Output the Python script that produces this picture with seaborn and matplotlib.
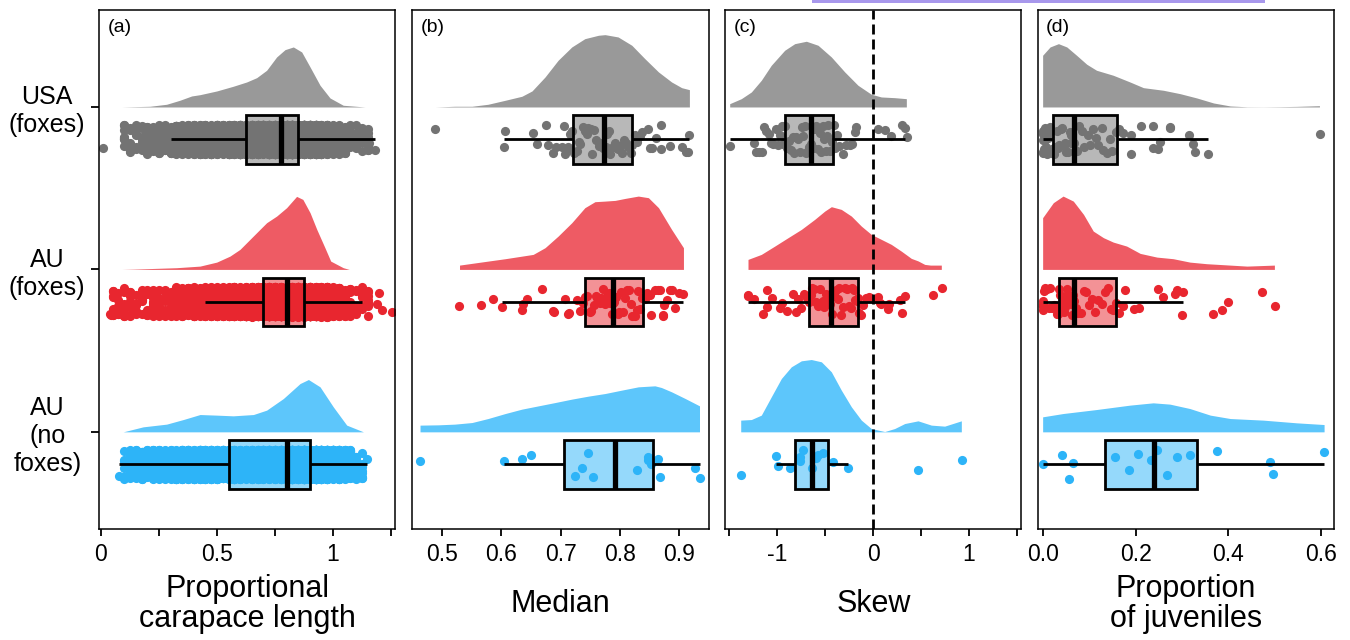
import numpy as np
import matplotlib
matplotlib.use("Agg")
import matplotlib.pyplot as plt
from matplotlib.patches import Rectangle
from matplotlib.colors import to_rgba
import seaborn as sns

sns.set_style("white")
plt.rcParams["font.family"] = ["Liberation Sans", "DejaVu Sans"]
plt.rcParams["axes.edgecolor"] = "black"
plt.rcParams["xtick.color"] = "black"
plt.rcParams["ytick.color"] = "black"
plt.rcParams["text.color"] = "black"
plt.rcParams["axes.labelcolor"] = "black"
plt.rcParams["xtick.labelcolor"] = "black"
plt.rcParams["ytick.labelcolor"] = "black"

# ---------------- data ----------------
groups = ["USA\n(foxes)", "AU\n(foxes)", "AU\n(no\nfoxes)"]
panel_letters = ["(a)", "(b)", "(c)", "(d)"]
x_titles = ["Proportional\ncarapace length", "Median", "Skew", "Proportion\nof juveniles"]

# panel (a): individuals, as counts per carapace-length bin
a_bins = [0.050, 0.075, 0.100, 0.125, 0.150, 0.175, 0.200, 0.225, 0.250, 0.275,
          0.300, 0.325, 0.350, 0.375, 0.400, 0.425, 0.450, 0.475, 0.500, 0.525,
          0.550, 0.575, 0.600, 0.625, 0.650, 0.675, 0.700, 0.725, 0.750, 0.775,
          0.800, 0.825, 0.850, 0.875, 0.900, 0.925, 0.950, 0.975, 1.000, 1.025,
          1.050, 1.075, 1.100, 1.125, 1.150]
usa_a_counts = [0, 0, 8, 8, 8, 9, 10, 12, 18, 30, 42, 66, 90, 114, 136, 146, 160, 178,
                192, 210, 234, 252, 276, 300, 324, 360, 420, 500, 590, 648, 690, 700,
                680, 650, 540, 400, 285, 180, 108, 48, 24, 12, 8, 8, 8]
au_a_counts = [8, 8, 8, 8, 8, 8, 8, 9, 10, 12, 14, 20, 26, 32, 38, 46, 54, 64, 74,
               108, 144, 186, 234, 288, 342, 396, 456, 516, 600, 690, 760, 820, 850,
               790, 620, 430, 270, 156, 90, 42, 18, 9, 8, 8, 8]
nf_a_counts = [0, 0, 8, 24, 46, 66, 80, 86, 92, 98, 116, 132, 150, 168, 192, 208, 208,
               204, 200, 198, 194, 192, 194, 200, 206, 216, 240, 276, 312, 372, 444,
               504, 564, 612, 624, 624, 564, 468, 348, 228, 120, 48, 18, 8, 0]
usa_a_extra = [0.01, 1.155, 1.18]
au_a_extra = [0.04, 0.045, 1.19, 1.20, 1.21, 1.253]
nf_a_extra = [0.08, 1.145]

# panel (b): median per site
usa_b = [0.489, 0.605, 0.606, 0.654, 0.661, 0.676, 0.679, 0.688, 0.692, 0.702, 0.706,
         0.708, 0.711, 0.713, 0.716,
         0.720, 0.723, 0.727, 0.731, 0.733, 0.738, 0.741, 0.744, 0.747, 0.751, 0.753,
         0.757, 0.760, 0.764, 0.767, 0.771, 0.776, 0.779, 0.782, 0.784, 0.788, 0.792,
         0.795, 0.797, 0.801, 0.804, 0.807, 0.810, 0.813, 0.815, 0.818, 0.821,
         0.825, 0.829, 0.833, 0.838, 0.848, 0.850, 0.854, 0.861, 0.869, 0.870, 0.884,
         0.904, 0.912, 0.915, 0.917]
au_b = [0.529, 0.566, 0.586, 0.601, 0.636, 0.637, 0.643, 0.669, 0.688, 0.689, 0.707,
        0.713, 0.714, 0.727, 0.733, 0.738,
        0.742, 0.745, 0.749, 0.752, 0.756, 0.759, 0.762, 0.766, 0.769, 0.772, 0.775,
        0.778, 0.781, 0.783, 0.786, 0.788, 0.790, 0.793, 0.796, 0.799, 0.802, 0.805,
        0.808, 0.812, 0.815, 0.818, 0.821, 0.825, 0.828, 0.831, 0.834, 0.837,
        0.842, 0.846, 0.851, 0.853, 0.859, 0.864, 0.868, 0.872, 0.873, 0.875, 0.880,
        0.884, 0.887, 0.893, 0.900, 0.907]
nf_b = [0.4635, 0.605, 0.636, 0.650, 0.724, 0.737, 0.747, 0.754, 0.828, 0.847, 0.848,
        0.852, 0.864, 0.867, 0.926, 0.935]

# panel (c): skew per site
usa_c = [-1.496, -1.245, -1.22, -1.19, -1.16, -1.14, -1.114, -1.09, -1.06, -1.04,
         -1.01, -0.99, -0.97, -0.95, -0.935,
         -0.92, -0.90, -0.88, -0.86, -0.84, -0.82, -0.80, -0.78, -0.76, -0.745, -0.73,
         -0.715, -0.70, -0.685, -0.67, -0.655, -0.645, -0.63, -0.615, -0.60, -0.585,
         -0.57, -0.555, -0.54, -0.525, -0.51, -0.495, -0.48, -0.465, -0.45, -0.43, -0.41,
         -0.40, -0.38, -0.35, -0.313, -0.278, -0.243, -0.22, -0.191, -0.174, 0.052,
         0.122, 0.191, 0.30, 0.335, 0.355]
au_c = [-1.31, -1.305, -1.24, -1.15, -1.11, -1.106, -1.05, -0.974, -0.95, -0.90, -0.835,
        -0.80, -0.783, -0.75, -0.72, -0.69,
        -0.665, -0.65, -0.635, -0.62, -0.60, -0.585, -0.57, -0.555, -0.54, -0.525, -0.51,
        -0.495, -0.48, -0.465, -0.45, -0.44, -0.43, -0.41, -0.39, -0.37, -0.35, -0.33,
        -0.31, -0.29, -0.27, -0.25, -0.235, -0.22, -0.20, -0.185, -0.17, -0.16,
        -0.15, -0.13, -0.10, -0.07, -0.04, 0.035, 0.05, 0.07, 0.087, 0.156, 0.17, 0.28,
        0.302, 0.331, 0.63, 0.72]
nf_c = [-1.381, -1.009, -0.992, -0.87, -0.765, -0.765, -0.73, -0.637, -0.60, -0.574,
        -0.52, -0.418, -0.261, 0.470, 0.929]

# panel (d): proportion of juveniles per site
usa_d = [0.000, 0.000, 0.000, 0.000, 0.000, 0.002, 0.004, 0.006, 0.008, 0.010, 0.012,
         0.014, 0.016, 0.018, 0.020,
         0.021, 0.024, 0.027, 0.031, 0.033, 0.036, 0.040, 0.042, 0.045, 0.049, 0.051,
         0.054, 0.058, 0.060, 0.062, 0.064, 0.068, 0.073, 0.078, 0.085, 0.090, 0.097,
         0.101, 0.109, 0.115, 0.119, 0.127, 0.131, 0.138, 0.146, 0.150, 0.157,
         0.165, 0.174, 0.191, 0.191, 0.212, 0.237, 0.237, 0.249, 0.253, 0.274, 0.275,
         0.315, 0.324, 0.327, 0.356, 0.598]
au_d = [0.000, 0.000, 0.000, 0.000, 0.000, 0.003, 0.006, 0.010, 0.013, 0.016, 0.020,
        0.024, 0.027, 0.030, 0.032, 0.033,
        0.035, 0.038, 0.040, 0.043, 0.045, 0.048, 0.050, 0.053, 0.055, 0.057, 0.059,
        0.061, 0.063, 0.065, 0.066, 0.067, 0.069, 0.072, 0.077, 0.082, 0.088, 0.094,
        0.100, 0.106, 0.113, 0.120, 0.127, 0.134, 0.141, 0.147, 0.152, 0.157,
        0.165, 0.172, 0.177, 0.197, 0.207, 0.249, 0.259, 0.285, 0.289, 0.300, 0.303,
        0.366, 0.386, 0.400, 0.473, 0.501]
nf_d = [0.0, 0.041, 0.057, 0.066, 0.156, 0.186, 0.206, 0.233, 0.247, 0.267, 0.290,
        0.317, 0.375, 0.490, 0.495, 0.606]

# density curves (x, density height)
usa_a_dx = [0.089, 0.211, 0.283, 0.340, 0.391, 0.427, 0.499, 0.570, 0.628, 0.671, 0.714,
            0.757, 0.793, 0.829, 0.865, 0.901, 0.944, 0.987, 1.044, 1.138]
usa_a_dh = [0, 0.7, 2.7, 6.7, 11, 12.3, 16, 20.7, 25, 29.3, 36.7, 50, 57.3, 60, 55, 40,
            21.7, 9, 1.7, 0]
au_a_dx = [0.09, 0.14, 0.326, 0.427, 0.499, 0.556, 0.599, 0.642, 0.685, 0.714, 0.757,
           0.80, 0.843, 0.870, 0.901, 0.93, 0.965, 0.99, 1.044, 1.07]
au_a_dh = [0, 0.3, 1.7, 3.3, 7.3, 13.3, 20, 30, 40, 46.7, 53.3, 61.7, 73, 70, 56.7, 40,
           21.7, 8.3, 1.7, 0]
nf_a_dx = [0.096, 0.182, 0.283, 0.355, 0.427, 0.499, 0.570, 0.657, 0.714, 0.786, 0.858,
           0.894, 0.944, 1.001, 1.059, 1.131]
nf_a_dh = [0, 5, 7.7, 12.3, 17.3, 16.7, 16, 17.3, 21.7, 33.3, 48.3, 52.3, 45, 25, 6.7, 0]

usa_b_dx = [0.489, 0.522, 0.551, 0.578, 0.607, 0.635, 0.652, 0.674, 0.696, 0.719, 0.741,
            0.764, 0.775, 0.797, 0.820, 0.842, 0.865, 0.887, 0.904, 0.917]
usa_b_dh = [0, 0.7, 0.7, 2.7, 6.7, 10.7, 16, 30, 46.7, 60, 68.3, 71.7, 72.3, 70, 61.7,
            48.3, 35, 25, 19.3, 17.3]
au_b_dx = [0.530, 0.578, 0.607, 0.654, 0.674, 0.696, 0.719, 0.741, 0.758, 0.775, 0.792,
           0.809, 0.831, 0.848, 0.865, 0.887, 0.907]
au_b_dh = [4.3, 8.3, 10.7, 15, 21.7, 33.3, 46.7, 61.7, 67.7, 68.3, 69, 71, 73.3, 71.7,
           61.7, 40, 21.7]
nf_b_dx = [0.4635, 0.494, 0.522, 0.551, 0.578, 0.607, 0.635, 0.663, 0.691, 0.719, 0.747,
           0.775, 0.803, 0.831, 0.859, 0.870, 0.887, 0.910, 0.934]
nf_b_dh = [6.7, 7, 7.7, 9.3, 13.3, 18.3, 22.7, 26, 29.3, 32.7, 35.7, 38.3, 41.7, 45, 46,
           44.3, 40, 33.3, 26]

usa_c_dx = [-1.496, -1.375, -1.270, -1.166, -1.062, -0.922, -0.817, -0.696, -0.574,
            -0.435, -0.295, -0.157, -0.018, 0.087, 0.226, 0.348]
usa_c_dh = [3.3, 8.3, 15, 26.7, 41.7, 56.7, 63.3, 65.7, 61.7, 50, 35, 21.7, 12.7, 10,
            9.3, 8.3]
au_c_dx = [-1.305, -1.166, -1.026, -0.887, -0.748, -0.609, -0.504, -0.435, -0.331,
           -0.226, -0.122, -0.018, 0.087, 0.191, 0.295, 0.400, 0.470, 0.540, 0.600, 0.713]
au_c_dh = [10, 15, 23.3, 31.7, 40, 50, 58.3, 62.7, 60, 53.3, 43.3, 35, 30, 25, 18.3, 11,
           8.5, 5, 4.3, 4.3]
nf_c_dx = [-1.381, -1.270, -1.166, -1.062, -0.957, -0.853, -0.748, -0.644, -0.539,
           -0.435, -0.331, -0.226, -0.122, -0.018, 0.122, 0.226, 0.331, 0.470, 0.609,
           0.748, 0.922]
nf_c_dh = [11.7, 12.3, 16.7, 35, 53.3, 65, 71, 72.3, 70, 60, 41.7, 25, 11.7, 3.3, 0.3,
           3.3, 8.3, 11, 6.7, 5.7, 11]

usa_d_dx = [0, 0.016, 0.034, 0.052, 0.073, 0.095, 0.116, 0.152, 0.188, 0.217, 0.260,
            0.296, 0.332, 0.368, 0.404, 0.440, 0.475, 0.511, 0.547, 0.596]
usa_d_dh = [51.7, 60, 63.3, 60, 51.7, 42.7, 36.7, 31.7, 25, 19.3, 16.7, 13.3, 9, 4, 1,
            0.2, 0.1, 0.3, 0.6, 1.3]
au_d_dx = [0, 0.023, 0.044, 0.066, 0.088, 0.109, 0.131, 0.152, 0.181, 0.210, 0.246,
           0.281, 0.317, 0.353, 0.404, 0.440, 0.499]
au_d_dh = [51.7, 66.7, 73.3, 68.3, 55, 38.3, 31.7, 27.3, 23.3, 16, 12.3, 10.7, 7.3, 5.7,
           4.3, 3.3, 4.3]
nf_d_dx = [0, 0.044, 0.116, 0.188, 0.238, 0.274, 0.317, 0.361, 0.404, 0.475, 0.547, 0.606]
nf_d_dh = [15, 18.3, 22.3, 26.7, 29, 27.7, 23.3, 16.7, 13.3, 11.7, 9, 7.3]

# axis settings
x_limits = [(-0.007, 1.267), (0.4505, 0.950), (-1.542, 1.548), (-0.010, 0.628)]
x_ticks = [[0, 0.25, 0.5, 0.75, 1.0, 1.25], [0.5, 0.6, 0.7, 0.8, 0.9],
           [-1.5, -1, -0.5, 0, 0.5, 1, 1.5], [0.0, 0.2, 0.4, 0.6]]
x_ticklabels = [["0", "", "0.5", "", "1", ""], ["0.5", "0.6", "0.7", "0.8", "0.9"],
                ["", "-1", "", "0", "", "1", ""], ["0.0", "0.2", "0.4", "0.6"]]

# ---------------- style ----------------
PT_COLORS = ["#737373", "#E8262F", "#2DB4F8"]
DENS_COLORS = ["#999999", "#EE5B64", "#5DC6FB"]
ROW_PX = 162.4          # pixels between group rows (density heights are in px)
POINT_OFFSET = 0.2
JITTER = 0.09
PT_SIZE = 6.6
AX_LEFTS = [99.3, 412.3, 725.3, 1038.0]
AX_WIDTHS = [295.7, 296.7, 296.0, 296.3]
FIG_W, FIG_H = 1350, 640
AX_TOP, AX_BOTTOM = 10.0, 529.3

np.random.seed(11)

fig = plt.figure(figsize=(FIG_W / 100, FIG_H / 100), dpi=100)

a_points = [
    np.concatenate([np.repeat(a_bins, usa_a_counts), usa_a_extra]),
    np.concatenate([np.repeat(a_bins, au_a_counts), au_a_extra]),
    np.concatenate([np.repeat(a_bins, nf_a_counts), nf_a_extra]),
]
panel_points = [a_points, [usa_b, au_b, nf_b], [usa_c, au_c, nf_c], [usa_d, au_d, nf_d]]
panel_dens = [
    [(usa_a_dx, usa_a_dh), (au_a_dx, au_a_dh), (nf_a_dx, nf_a_dh)],
    [(usa_b_dx, usa_b_dh), (au_b_dx, au_b_dh), (nf_b_dx, nf_b_dh)],
    [(usa_c_dx, usa_c_dh), (au_c_dx, au_c_dh), (nf_c_dx, nf_c_dh)],
    [(usa_d_dx, usa_d_dh), (au_d_dx, au_d_dh), (nf_d_dx, nf_d_dh)],
]

for k in range(4):
    ax = fig.add_axes([AX_LEFTS[k] / FIG_W, (FIG_H - AX_BOTTOM) / FIG_H,
                       AX_WIDTHS[k] / FIG_W, (AX_BOTTOM - AX_TOP) / FIG_H])
    # half-violin densities
    for i in range(3):
        dx, dh = panel_dens[k][i]
        ax.fill_between(dx, i, i - np.asarray(dh) / ROW_PX, color=DENS_COLORS[i],
                        linewidth=0, zorder=1)
    if k == 2:
        ax.axvline(0, color="black", linewidth=2.0, dashes=(3.6, 1.8), zorder=5)
    # jittered raw points
    for i in range(3):
        vals = np.asarray(panel_points[k][i], dtype=float)
        pos = np.full(len(vals), i + POINT_OFFSET)
        sns.stripplot(x=vals, y=pos, orient="h", native_scale=True, jitter=JITTER,
                      size=PT_SIZE, color=PT_COLORS[i], linewidth=0, ax=ax, zorder=2)
    # box plots
    for i in range(3):
        vals = np.asarray(panel_points[k][i], dtype=float)
        pos = np.full(len(vals), i + POINT_OFFSET)
        n_p, n_l = len(ax.patches), len(ax.lines)
        sns.boxplot(x=vals, y=pos, orient="h", native_scale=True, width=0.3,
                    color=PT_COLORS[i], saturation=1, linecolor="black", linewidth=2.0,
                    showcaps=False, showfliers=False,
                    whiskerprops=dict(linewidth=2.0, color="black"),
                    medianprops=dict(color="black", linewidth=3.8), ax=ax)
        for p in ax.patches[n_p:]:
            p.set_facecolor(to_rgba(PT_COLORS[i], 0.5))
            p.set_edgecolor("black")
            p.set_linewidth(2.0)
            p.set_zorder(3)
        for ln in ax.lines[n_l:]:
            ln.set_zorder(4)

    ax.set_xlim(*x_limits[k])
    ax.set_ylim(2.600, -0.597)
    ax.set_xticks(x_ticks[k])
    ax.set_xticklabels(x_ticklabels[k], fontsize=16.5)
    ax.tick_params(axis="x", direction="out", length=5, width=1.3, pad=5,
                   bottom=True, colors="black")
    if k == 0:
        ax.set_yticks([0, 1, 2])
        ax.set_yticklabels(groups, fontsize=18, ha="center", multialignment="center")
        ax.tick_params(axis="y", direction="out", length=6, width=1.3, pad=31.5,
                       left=True, colors="black")
    else:
        ax.set_yticks([])
    ax.set_ylabel("")
    ax.set_xlabel(x_titles[k], fontsize=22, linespacing=1.02, color="black")
    ax.xaxis.set_label_coords(0.5, (AX_BOTTOM - 604) / (AX_BOTTOM - AX_TOP))
    ax.xaxis.label.set_va("center")
    for s in ax.spines.values():
        s.set_color("black")
        s.set_linewidth(1.1)
        s.set_zorder(6)
    ax.text(0.027, 0.967, panel_letters[k], transform=ax.transAxes, ha="left",
            va="center", fontsize=14, color="black")

# thin lavender bar at the very top of the image
fig.add_artist(Rectangle((812 / FIG_W, 1 - 3 / FIG_H), (1265 - 812) / FIG_W, 3 / FIG_H,
                         transform=fig.transFigure, color="#A898EC", linewidth=0))

fig.savefig("out.png", dpi=100)
